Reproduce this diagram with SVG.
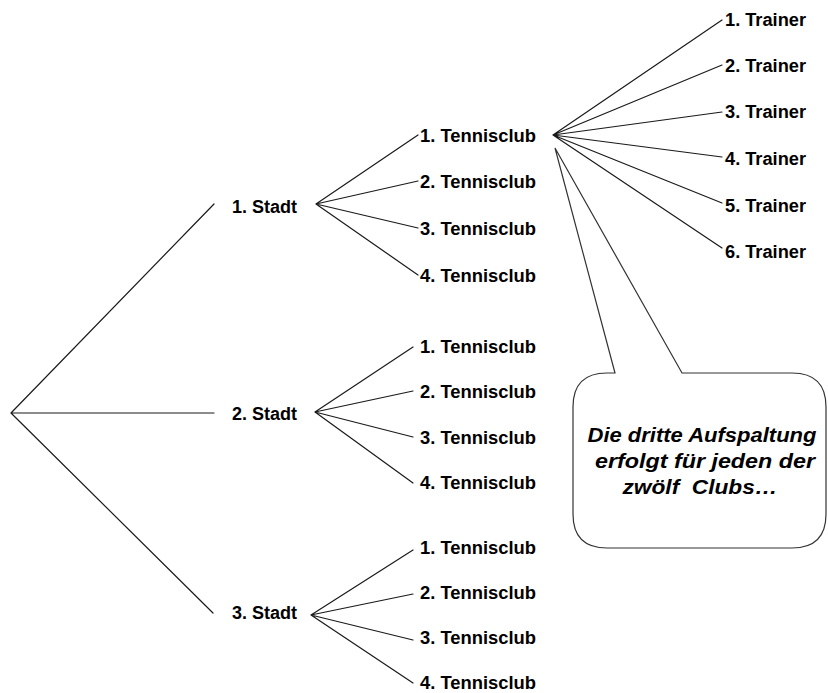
<svg xmlns="http://www.w3.org/2000/svg" width="828" height="693" viewBox="0 0 828 693">
<style>
.l{font-family:"Liberation Sans",Arial,sans-serif;font-weight:bold;font-size:17.5px;fill:#000}
.c{stroke:#1a1a1a;stroke-width:1.2;fill:none;stroke-linecap:round}
.bub{fill:#fff;stroke:#333;stroke-width:1.2}
.bt{font-family:"Liberation Sans",Arial,sans-serif;font-weight:bold;font-style:italic;font-size:21px;fill:#000;text-anchor:middle}
</style>
<rect width="828" height="693" fill="#fff"/>
<g id="connectors" class="c">
<path d="M11,413 L214,204 M11,413 L214,413 M11,413 L213,613"/>
<path d="M316,204 L418,135 M316,204 L418,181 M316,204 L418,228 M316,204 L418,275"/>
<path d="M315,412 L413,347 M315,412 L413,391 M315,412 L413,437 M315,412 L413,483"/>
<path d="M311,615 L413,550 M311,615 L413,594 M311,615 L413,640 M311,615 L413,683"/>
<path d="M553,135 L722,20 M553,135 L722,65 M553,135 L722,112 M553,135 L722,157 M553,135 L722,203 M553,135 L722,248"/>
</g>
<g id="stadt1"><text class="l" x="232" y="213" textLength="65" lengthAdjust="spacingAndGlyphs">1. Stadt</text></g>
<g id="stadt2"><text class="l" x="232" y="420" textLength="65" lengthAdjust="spacingAndGlyphs">2. Stadt</text></g>
<g id="stadt3"><text class="l" x="232" y="619" textLength="65" lengthAdjust="spacingAndGlyphs">3. Stadt</text></g>
<g id="s1c1"><text class="l" x="420" y="142" textLength="116" lengthAdjust="spacingAndGlyphs">1. Tennisclub</text></g>
<g id="s1c2"><text class="l" x="420" y="188" textLength="116" lengthAdjust="spacingAndGlyphs">2. Tennisclub</text></g>
<g id="s1c3"><text class="l" x="420" y="235" textLength="116" lengthAdjust="spacingAndGlyphs">3. Tennisclub</text></g>
<g id="s1c4"><text class="l" x="420" y="282" textLength="116" lengthAdjust="spacingAndGlyphs">4. Tennisclub</text></g>
<g id="s2c1"><text class="l" x="420" y="353" textLength="116" lengthAdjust="spacingAndGlyphs">1. Tennisclub</text></g>
<g id="s2c2"><text class="l" x="420" y="398" textLength="116" lengthAdjust="spacingAndGlyphs">2. Tennisclub</text></g>
<g id="s2c3"><text class="l" x="420" y="444" textLength="116" lengthAdjust="spacingAndGlyphs">3. Tennisclub</text></g>
<g id="s2c4"><text class="l" x="420" y="489" textLength="116" lengthAdjust="spacingAndGlyphs">4. Tennisclub</text></g>
<g id="s3c1"><text class="l" x="420" y="554" textLength="116" lengthAdjust="spacingAndGlyphs">1. Tennisclub</text></g>
<g id="s3c2"><text class="l" x="420" y="599" textLength="116" lengthAdjust="spacingAndGlyphs">2. Tennisclub</text></g>
<g id="s3c3"><text class="l" x="420" y="644" textLength="116" lengthAdjust="spacingAndGlyphs">3. Tennisclub</text></g>
<g id="s3c4"><text class="l" x="420" y="689" textLength="116" lengthAdjust="spacingAndGlyphs">4. Tennisclub</text></g>
<g id="t1"><text class="l" x="725" y="26" textLength="81" lengthAdjust="spacingAndGlyphs">1. Trainer</text></g>
<g id="t2"><text class="l" x="725" y="72" textLength="81" lengthAdjust="spacingAndGlyphs">2. Trainer</text></g>
<g id="t3"><text class="l" x="725" y="118" textLength="81" lengthAdjust="spacingAndGlyphs">3. Trainer</text></g>
<g id="t4"><text class="l" x="725" y="165" textLength="81" lengthAdjust="spacingAndGlyphs">4. Trainer</text></g>
<g id="t5"><text class="l" x="725" y="212" textLength="81" lengthAdjust="spacingAndGlyphs">5. Trainer</text></g>
<g id="t6"><text class="l" x="725" y="258" textLength="81" lengthAdjust="spacingAndGlyphs">6. Trainer</text></g>
<g id="callout">
<path class="bub" d="M615,373 L555,148 L682,373 L792,373 Q826,373 826,407 L826,514 Q826,548 792,548 L607,548 Q573,548 573,514 L573,407 Q573,373 607,373 Z"/>
<text class="bt" x="702" y="442" textLength="229" lengthAdjust="spacingAndGlyphs">Die dritte Aufspaltung</text>
<text class="bt" x="705" y="468" textLength="220" lengthAdjust="spacingAndGlyphs">erfolgt für jeden der</text>
<text class="bt" x="700" y="494" textLength="155" lengthAdjust="spacingAndGlyphs" xml:space="preserve">zwölf  Clubs…</text>
</g>
</svg>
